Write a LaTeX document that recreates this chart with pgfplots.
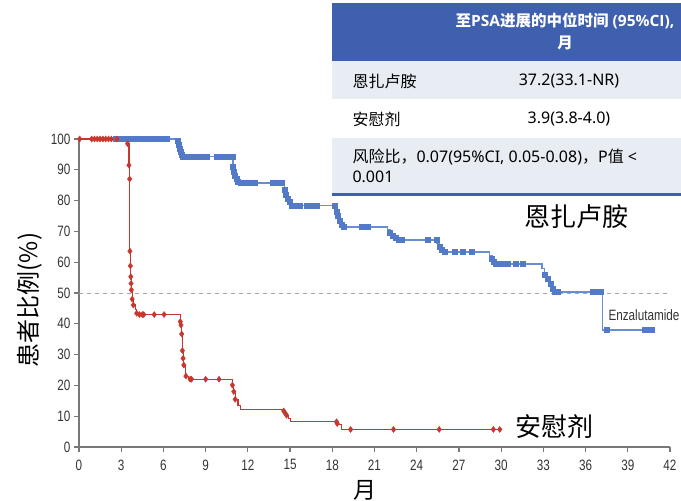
\documentclass[border=0pt]{standalone}
\usepackage{pgfplots}
\pgfplotsset{compat=1.18}
\usepackage{fontspec}
\setmainfont{Liberation Sans}
\newfontfamily\cjk{Noto Sans CJK SC}
\newfontfamily\lat{Noto Sans}
\newfontfamily\latb{Open Sans}
\newfontfamily\tickfont[FakeStretch=0.78]{Liberation Sans}
\definecolor{enz}{RGB}{82,122,198}
\definecolor{enzl}{RGB}{105,142,212}
\definecolor{pla}{RGB}{200,55,45}
\definecolor{hdr}{RGB}{63,96,174}
\definecolor{rowg}{RGB}{232,236,243}
\definecolor{axg}{RGB}{120,120,120}
\begin{document}
\begin{tikzpicture}
\path[use as bounding box] (-79pt,-54pt) rectangle (602pt,447pt);
\begin{axis}[at={(0pt,0pt)}, anchor=south west, scale only axis,
  width=591pt, height=308pt, xmin=0, xmax=42, ymin=0, ymax=100,
  axis lines=left, axis line style={axg, line width=1.5pt, -},
  xtick={0,3,...,42}, ytick={0,10,...,100},
  tick align=outside, major tick length=5pt,
  tick style={axg, line width=1.2pt},
  /pgf/number format/assume math mode=true,
  tick label style={font=\tickfont\fontsize{15}{18}\selectfont, text=black!80},
  xticklabel style={yshift=-4pt},
  clip=false]
\addplot[gray!70, dashed, line width=0.8pt, dash pattern=on 4pt off 4pt, forget plot] coordinates {(0,50) (42,50)};
% Enzalutamide line
\addplot[enzl, line width=1.2pt, const plot, no marks] coordinates {
(0,100) (7.0,99) (7.1,97.5) (7.2,96) (7.35,94.8) (7.5,94.2)
(10.9,93) (10.95,91) (11.0,89.5) (11.1,88) (11.2,87) (11.3,86.2) (11.5,85.7)
(14.5,85) (14.6,83.5) (14.7,82) (14.8,80.5) (14.95,79.5) (15.1,78.5)
(18.2,78) (18.3,76.5) (18.4,75) (18.5,73.5) (18.65,72.3) (18.8,71.4)
(21.9,70.5) (22.1,69.5) (22.3,68.5) (22.5,67.8) (22.7,67.2)
(25.4,66) (25.6,65) (25.8,64) (26.0,63.3)
(29.2,62) (29.35,61) (29.5,60) (29.6,59.4)
(32.9,58) (33.1,56) (33.3,54.5) (33.5,53) (33.65,51.5) (33.8,50.3)
(37.2,38.0) (40.7,38.0)};
\addplot[enz, only marks, mark=square*, mark size=2.5pt] coordinates {
(2.6,100) (2.8,100) (3.0,100) (3.2,100) (3.4,100) (3.6,100) (3.8,100) (4.0,100) (4.2,100) (4.4,100)
(4.6,100) (4.8,100) (5.0,100) (5.2,100) (5.4,100) (5.6,100) (5.8,100) (6.0,100) (6.2,100)
(7.0,99.5) (7.1,98) (7.15,97) (7.2,96) (7.3,95) (7.4,94.4)
(7.5,94.2) (7.7,94.2) (7.9,94.2) (8.1,94.2) (8.3,94.2) (8.5,94.2) (8.7,94.2) (8.9,94.2) (9.1,94.2)
(9.8,94.2) (10.0,94.2) (10.2,94.2) (10.5,94.2) (10.7,94.2) (10.9,94.2)
(10.95,91) (11.0,89.5) (11.1,88) (11.2,87) (11.3,86.2)
(11.5,85.7) (11.7,85.7) (11.9,85.7) (12.1,85.7) (12.3,85.7) (12.5,85.7)
(13.8,85.7) (14.0,85.7) (14.2,85.7) (14.4,85.7)
(14.6,83.5) (14.7,82) (14.8,80.5) (14.95,79.5)
(15.1,78.5) (15.3,78.5) (15.5,78.5) (15.7,78.5) (16.2,78.5) (16.6,78.5) (16.9,78.5) (18.2,78.5)
(18.3,76.5) (18.4,75) (18.5,73.5) (18.65,72.3)
(18.8,71.4) (20.1,71.4) (20.5,71.4)
(22.1,69.5) (22.3,68.5) (22.5,67.8)
(22.7,67.2) (22.9,67.2) (24.8,67.2) (25.4,67.2)
(25.6,65) (25.8,64)
(26.0,63.3) (26.7,63.3) (27.3,63.3) (27.9,63.3)
(29.35,61) (29.5,60)
(29.6,59.4) (29.8,59.4) (30.1,59.4) (30.5,59.4) (31.0,59.4) (31.5,59.4)
(33.1,56) (33.3,54.5) (33.5,53) (33.65,51.5)
(33.8,50.3) (34.0,50.3) (36.5,50.3) (36.7,50.3) (36.9,50.3) (37.1,50.3)
(37.5,38) (40.2,38) (40.5,38) (40.7,38)};
% Placebo line
\addplot[pla, line width=1.1pt, const plot, no marks] coordinates {
(0,100) (3.5,98.5) (3.55,91.5) (3.6,87) (3.62,63.6) (3.65,58.8) (3.68,55.3) (3.7,53.1) (3.72,51)
(3.78,48) (3.86,46.1) (4.0,44.5) (4.1,43.4) (4.3,43)
(7.2,40.7) (7.25,39.6) (7.3,36.7) (7.35,31.3) (7.4,28.8) (7.45,26.6) (7.6,23) (7.8,22)
(10.9,20.1) (11.0,18) (11.1,15.5) (11.3,13.5) (11.5,12.2)
(14.55,11.7) (14.65,11) (14.75,10.3) (14.9,9.2) (15.0,8.2)
(18.4,7.2) (18.67,5.7) (29.9,5.7)};
\addplot[pla, only marks, mark=diamond*, mark size=3pt] coordinates {
(0.05,100) (0.9,100) (1.1,100) (1.3,100) (1.5,100) (1.7,100) (1.9,100) (2.1,100) (2.3,100) (2.7,100)
(3.45,98.5) (3.55,91.5) (3.6,87) (3.62,63.6) (3.65,58.8) (3.68,55.3) (3.7,53.1) (3.72,51)
(3.78,48) (3.86,46.1) (4.1,43.4) (4.3,43) (4.5,43) (4.6,43) (5.35,43) (6.05,43)
(7.2,40.7) (7.25,39.6) (7.3,36.7) (7.35,31.3) (7.4,28.8) (7.45,26.6) (7.6,23)
(7.9,22) (8.0,22) (9.0,22) (9.95,22)
(10.9,20.1) (11.0,18) (11.1,15.5)
(14.55,11.7) (14.65,11) (14.75,10.3)
(18.3,8.2) (18.35,7.6)
(19.3,5.7) (22.35,5.7) (25.6,5.7) (29.45,5.7) (29.9,5.7)};
\end{axis}
\begin{scope}[shift={(-79pt,-54pt)}, x=1pt, y=1pt]
% table
\fill[hdr] (332,440) rectangle (681,498);
\fill[rowg] (332,402) rectangle (681,440);
\fill[white] (332,363) rectangle (681,402);
\fill[rowg] (332,308) rectangle (681,363);
\fill[hdr] (332,305) rectangle (681,308);
\node[text=white, font=\cjk\bfseries\fontsize{15.5}{22}\selectfont, align=center, inner sep=0pt] at (565,469.5) {至{\latb\bfseries PSA}进展的中位时间{\latb\bfseries\ (95\%CI),}\\月};
\node[anchor=west, font=\cjk\fontsize{16}{20}\selectfont] at (349,420) {恩扎卢胺};
\node[font=\lat\fontsize{16}{20}\selectfont] at (569,420) {37.2(33.1-NR)};
\node[anchor=west, font=\cjk\fontsize{16}{20}\selectfont] at (349,382) {安慰剂};
\node[font=\lat\fontsize{16}{20}\selectfont] at (569,382) {3.9(3.8-4.0)};
\node[anchor=west, align=left, font=\cjk\fontsize{16}{19.5}\selectfont] at (349,335) {风险比，{\lat 0.07(95\%CI, 0.05-0.08)}，{\lat P}值{\lat\ <}\\{\lat 0.001}};
% labels
\node[font=\cjk\fontsize{26}{30}\selectfont] at (576,284) {恩扎卢胺};
\node[font=\cjk\fontsize{26}{30}\selectfont] at (554,74) {安慰剂};
\node[font=\tickfont\fontsize{15}{18}\selectfont, text=black!80] at (644,186) {Enzalutamide};
\node[rotate=90, font=\cjk\fontsize{24}{28}\selectfont] at (30,201) {患者比例(\%)};
\node[font=\cjk\fontsize{23}{28}\selectfont] at (365,11) {月};
\end{scope}
\end{tikzpicture}
\end{document}
